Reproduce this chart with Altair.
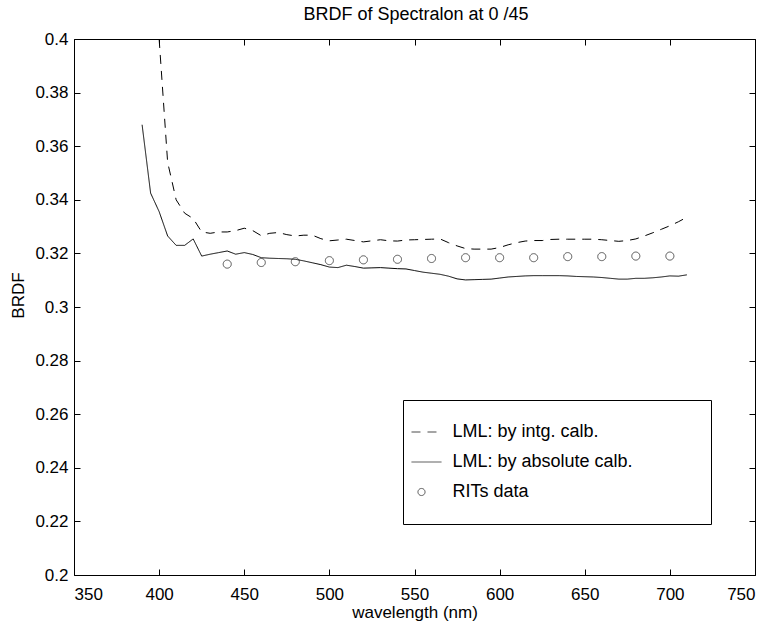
import altair as alt
import pandas as pd

FONT = "Liberation Sans"

# ---- data ----
WL_INTG = list(range(400, 715, 5))
BRDF_INTG = [0.400, 0.354, 0.340, 0.335, 0.333, 0.328, 0.3275, 0.328, 0.328, 0.3285,
             0.3294, 0.3285, 0.3266, 0.3275, 0.3278, 0.3270, 0.3265, 0.3268, 0.3268, 0.3255,
             0.3247, 0.3250, 0.3253, 0.3248, 0.3243, 0.3247, 0.3251, 0.3247, 0.3246, 0.3250,
             0.3251, 0.3252, 0.3253, 0.3254, 0.3240, 0.3228, 0.3218, 0.3216, 0.3216, 0.3216,
             0.3222, 0.3232, 0.3240, 0.3246, 0.3248, 0.3248, 0.3252, 0.3253, 0.3253, 0.3253,
             0.3253, 0.3253, 0.3251, 0.3248, 0.3245, 0.3248, 0.3254, 0.3265, 0.3277, 0.3290,
             0.3303, 0.3318, 0.3335]

WL_ABS = list(range(390, 715, 5))
BRDF_ABS = [0.368, 0.3425, 0.3356, 0.3265, 0.3230, 0.3230, 0.3254, 0.3190, 0.3197, 0.3203,
            0.3209, 0.3197, 0.3203, 0.3196, 0.3184, 0.3182, 0.3181, 0.3180, 0.3178, 0.3172,
            0.3165, 0.3158, 0.3149, 0.3147, 0.3156, 0.3151, 0.3145, 0.3146, 0.3147, 0.3145,
            0.3143, 0.3142, 0.3136, 0.3130, 0.3126, 0.3122, 0.3115, 0.3105, 0.3101, 0.3102,
            0.3103, 0.3104, 0.3108, 0.3112, 0.3114, 0.3116, 0.3117, 0.3117, 0.3117, 0.3117,
            0.3116, 0.3114, 0.3113, 0.3112, 0.3110, 0.3107, 0.3104, 0.3104, 0.3107, 0.3107,
            0.3109, 0.3112, 0.3116, 0.3115, 0.3120]

WL_RIT = [440, 460, 480, 500, 520, 540, 560, 580, 600, 620, 640, 660, 680, 700]
BRDF_RIT = [0.3160, 0.3166, 0.3169, 0.3173, 0.3176, 0.3178, 0.3181, 0.3184, 0.3184, 0.3184,
            0.3188, 0.3188, 0.3190, 0.3190]

SERIES = ["LML: by intg. calb.", "LML: by absolute calb.", "RITs data"]
TITLE = "BRDF of Spectralon at 0 /45"
X_TICKS = [350, 400, 450, 500, 550, 600, 650, 700, 750]
Y_TICKS = [0.2, 0.22, 0.24, 0.26, 0.28, 0.3, 0.32, 0.34, 0.36, 0.38, 0.4]

lines_df = pd.concat([
    pd.DataFrame({"wl": WL_INTG, "val": BRDF_INTG, "series": SERIES[0]}),
    pd.DataFrame({"wl": WL_ABS, "val": BRDF_ABS, "series": SERIES[1]}),
], ignore_index=True)
rit_df = pd.DataFrame({"wl": WL_RIT, "val": BRDF_RIT, "series": SERIES[2]})

W, H = 681, 536
TICK = 6

xscale = alt.Scale(domain=[350, 750], nice=False, zero=False)
yscale = alt.Scale(domain=[0.2, 0.4], nice=False, zero=False)

legend = alt.Legend(
    orient="none", legendX=329, legendY=361, title=None,
    padding=23, fillColor="white", strokeColor="black",
    labelFont=FONT, labelFontSize=18, labelColor="black", labelLimit=500,
    labelOffset=22, rowPadding=12,
    symbolSize=50, symbolOffset=-13.5, symbolStrokeWidth=1,
    symbolStrokeColor="black", symbolFillColor="transparent",
    labelExpr="datum.label + '" + "\u00a0" * 11 + "\u200b'",
)

dash_scale = alt.Scale(domain=SERIES, range=[[9, 7], [1, 0], [1, 0]])
shape_scale = alt.Scale(domain=SERIES, range=["M-2.83,0L5.66,0", "M-2.83,0L5.66,0", "circle"])

x_bottom = alt.X("wl:Q", scale=xscale, axis=alt.Axis(
    orient="bottom", values=X_TICKS, format="d", offset=-TICK, tickSize=TICK,
    labelPadding=11, title="wavelength (nm)", titleBaseline="alphabetic",
    titleY=48, titleFontSize=17))
y_left = alt.Y("val:Q", scale=yscale, axis=alt.Axis(
    orient="left", values=Y_TICKS, format=".2~f", offset=-TICK, tickSize=TICK,
    labelPadding=6, title="BRDF", titleBaseline="alphabetic", titleX=-56.7,
    titleY=256, titleFontSize=17))

lines = alt.Chart(lines_df).mark_line(color="black", strokeWidth=1, clip=True).encode(
    x=x_bottom,
    y=y_left,
    detail="series:N",
    strokeDash=alt.StrokeDash("series:N", scale=dash_scale, legend=legend),
)

points = alt.Chart(rit_df).mark_point(
    color="black", filled=False, size=65, strokeWidth=1, clip=True
).encode(
    x=alt.X("wl:Q", scale=xscale),
    y=alt.Y("val:Q", scale=yscale),
    shape=alt.Shape("series:N", scale=shape_scale, legend=legend),
    strokeDash=alt.StrokeDash("series:N", scale=dash_scale, legend=legend),
)

main = alt.layer(lines, points)

# top/right frame ticks; the top axis also carries the chart title text
frame_axes = alt.Chart(rit_df).mark_point(opacity=0).encode(
    x=alt.X("wl:Q", scale=xscale, axis=alt.Axis(
        orient="top", values=X_TICKS, offset=-TICK, tickSize=TICK,
        labels=False, title=TITLE, titleFontSize=18, titleBaseline="alphabetic",
        titleY=-25.5, titleX=W / 2 + 1)),
    y=alt.Y("val:Q", scale=yscale, axis=alt.Axis(
        orient="right", values=Y_TICKS, offset=-TICK, tickSize=TICK,
        labels=False, title=None)),
)

chart = alt.layer(main, frame_axes).resolve_scale(
    x="independent", y="independent"
).properties(
    width=W, height=H,
    background="white",
    autosize=alt.AutoSizeParams(type="none"),
    padding={"left": 74, "top": 39, "right": 774 - 74 - W, "bottom": 627 - 39 - H},
).configure_view(
    stroke="black", strokeWidth=1
).configure_axis(
    domain=False, grid=False, labelFont=FONT, labelFontSize=17,
    labelColor="black", tickColor="black", tickWidth=1,
    titleFont=FONT, titleColor="black", titleFontWeight="normal",
)

chart.save("out.html", embed_options={"renderer": "svg", "actions": False})
